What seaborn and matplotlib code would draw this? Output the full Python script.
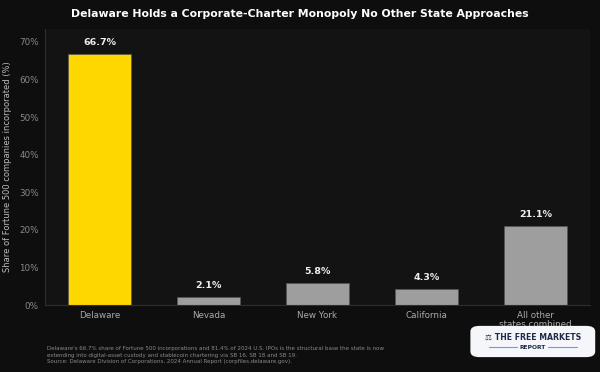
import pandas as pd
import seaborn as sns
import matplotlib.pyplot as plt
from matplotlib.patches import FancyBboxPatch
from matplotlib.ticker import PercentFormatter

# Data
states = ['Delaware', 'Nevada', 'New York', 'California', 'All other\nstates combined']
share = [66.7, 2.1, 5.8, 4.3, 21.1]
colors = ['#FFD700', '#9E9E9E', '#9E9E9E', '#9E9E9E', '#9E9E9E']

df = pd.DataFrame({'state': states, 'share': share})

sns.set_theme(style='dark')
plt.rcParams['font.family'] = ['DejaVu Sans']

fig = plt.figure(figsize=(6, 3.72), dpi=100, facecolor='#0e0e0e')
ax = fig.add_axes([0.075, 0.18, 0.908, 0.742])
ax.set_facecolor('#131313')

sns.barplot(data=df, x='state', y='share', hue='state', palette=colors,
            legend=False, width=0.58, ax=ax, saturation=1,
            edgecolor='#555555', linewidth=0.5)

for i, v in enumerate(share):
    ax.text(i, v + 1.8, f'{v}%', ha='center', va='bottom', color='#eeeeee',
            fontsize=6.8, fontweight='bold')

ax.set_ylim(0, 73.4)
ax.yaxis.set_major_formatter(PercentFormatter(decimals=0))
ax.set_xlabel('')
ax.set_ylabel('Share of Fortune 500 companies incorporated (%)', color='#bbbbbb',
              fontsize=6.0, labelpad=5)
ax.tick_params(colors='#888888', labelsize=6.3, length=2.5, width=0.6, pad=2)
ax.tick_params(axis='x', labelcolor='#aaaaaa')
for lbl in ax.get_xticklabels():
    lbl.set_linespacing(0.95)
for s in ['top', 'right']:
    ax.spines[s].set_visible(False)
for s in ['left', 'bottom']:
    ax.spines[s].set_visible(True)
    ax.spines[s].set_color('#2e2e2e')
    ax.spines[s].set_linewidth(0.8)
ax.grid(False)

fig.text(0.5, 0.962, 'Delaware Holds a Corporate-Charter Monopoly No Other State Approaches',
         ha='center', va='center', color='white', fontsize=7.8, fontweight='bold')

fig.text(0.078, 0.022,
         "Delaware's 66.7% share of Fortune 500 incorporations and 81.4% of 2024 U.S. IPOs is the structural base the state is now\n"
         "extending into digital-asset custody and stablecoin chartering via SB 16, SB 18 and SB 19.\n"
         "Source: Delaware Division of Corporations, 2024 Annual Report (corpfiles.delaware.gov).",
         ha='left', va='bottom', color='#8a8a8a', fontsize=4.0, linespacing=1.3)

# logo badge
box = FancyBboxPatch((0.788, 0.044), 0.2, 0.076, boxstyle='round,pad=0.004,rounding_size=0.015',
                     transform=fig.transFigure, facecolor='#f4f6fa', edgecolor='none')
fig.patches.append(box)
fig.text(0.888, 0.093, '⚖ THE FREE MARKETS', ha='center', va='center',
         color='#1d2a4a', fontsize=5.6, fontweight='bold')
fig.text(0.888, 0.066, 'REPORT', ha='center', va='center',
         color='#1d2a4a', fontsize=4.3, fontweight='bold')
fig.lines.append(plt.Line2D([0.815, 0.862], [0.066, 0.066], transform=fig.transFigure,
                            color='#4aa8ff', linewidth=0.8))
fig.lines.append(plt.Line2D([0.914, 0.962], [0.066, 0.066], transform=fig.transFigure,
                            color='#4aa8ff', linewidth=0.8))

fig.savefig('out.png', dpi=100, facecolor=fig.get_facecolor())
